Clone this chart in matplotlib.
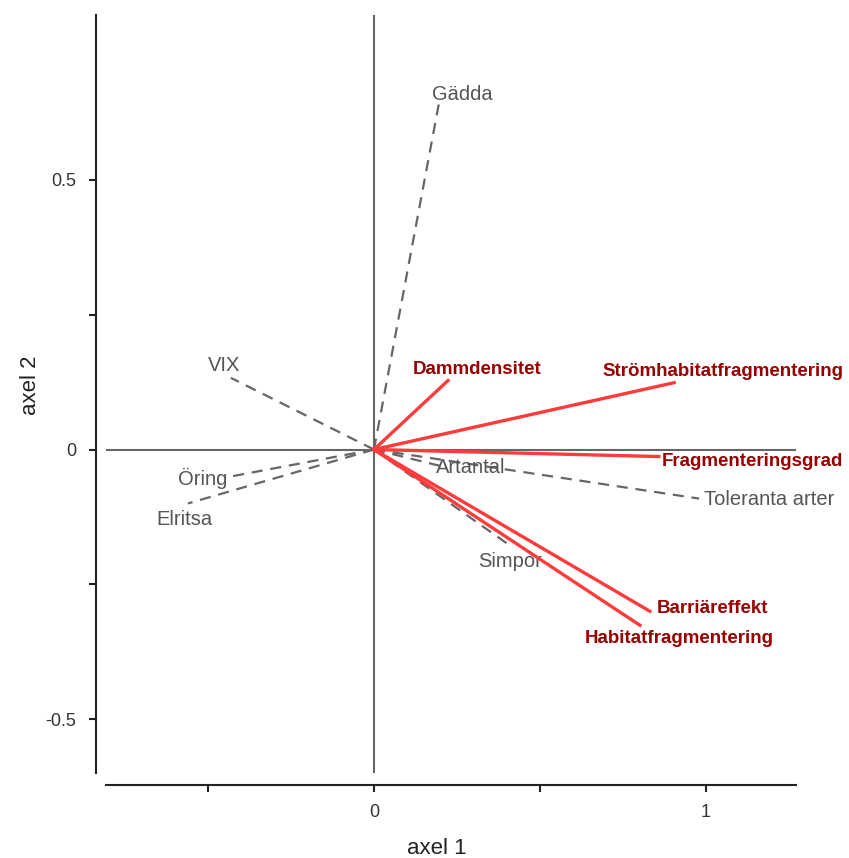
import matplotlib.pyplot as plt

plt.rcParams['font.family'] = ['Liberation Sans', 'DejaVu Sans']

# environmental variables (red)
env_names = ['Dammdensitet', 'Strömhabitatfragmentering', 'Fragmenteringsgrad',
             'Barriäreffekt', 'Habitatfragmentering']
env_x = [0.223, 0.904, 0.858, 0.831, 0.801]
env_y = [0.128, 0.124, -0.013, -0.300, -0.326]

# fish variables (grey dashed)
fish_names = ['Gädda', 'VIX', 'Öring', 'Elritsa', 'Artantal', 'Toleranta arter', 'Simpor']
fish_x = [0.195, -0.431, -0.431, -0.56, 0.21, 0.979, 0.416]
fish_y = [0.640, 0.133, -0.050, -0.100, -0.032, -0.091, -0.181]

env_label_pos = [(0.31, 0.148), (1.05, 0.145), (1.14, -0.022), (1.02, -0.295), (0.92, -0.35)]
fish_label_pos = [(0.265, 0.658), (-0.45, 0.155), (-0.515, -0.053), (-0.57, -0.13),
                  (0.29, -0.034), (1.19, -0.093), (0.41, -0.208)]

fig = plt.figure(figsize=(8.49, 8.58), dpi=100)
ax = fig.add_axes([106 / 849, 1 - 773 / 858, 690 / 849, 758 / 858])

ax.plot([-0.807, 1.271], [0, 0], color='#666666', lw=1.5, zorder=1)
ax.plot([0, 0], [-0.6, 0.806], color='#666666', lw=1.5, zorder=1)

for n, x, y, (lx, ly) in zip(fish_names, fish_x, fish_y, fish_label_pos):
    ax.plot([0, x], [0, y], color='#666666', lw=1.6, dashes=(5, 3.5), zorder=2)
    ax.text(lx, ly, n, color='#555555', fontsize=14.5, ha='center', va='center')

for n, x, y, (lx, ly) in zip(env_names, env_x, env_y, env_label_pos):
    ax.plot([0, x], [0, y], color='#ff3b3b', lw=2.4, zorder=3)
    ax.text(lx, ly, n, color='#990000', fontsize=13.5, fontweight='bold', ha='center', va='center')

ax.set_xlim(-0.807, 1.271)
ax.set_ylim(-0.6, 0.806)
ax.spines['top'].set_visible(False)
ax.spines['right'].set_visible(False)
ax.spines['left'].set_position(('outward', 7.2))
ax.spines['bottom'].set_position(('outward', 8.6))
for s in ['left', 'bottom']:
    ax.spines[s].set_linewidth(1.5)
    ax.spines[s].set_color('#222222')

ax.set_xticks([-0.5, 0, 0.5, 1])
ax.set_xticklabels(['', '0', '', '1'])
ax.set_yticks([-0.5, -0.25, 0, 0.25, 0.5])
ax.set_yticklabels(['-0.5', '', '0', '', '0.5'])
ax.tick_params(length=5, width=1.5, color='#222222', labelsize=13, labelcolor='#333333', pad=9)

ax.set_xlabel('axel 1', fontsize=16, color='#222222', va='center')
ax.xaxis.set_label_coords((437 - 106) / 690, -(848 - 773) / 758)
ax.set_ylabel('axel 2', fontsize=16, color='#222222', va='center')
ax.yaxis.set_label_coords(-(106 - 30) / 690, (773 - 385) / 758)

fig.savefig('out.png', dpi=100)
